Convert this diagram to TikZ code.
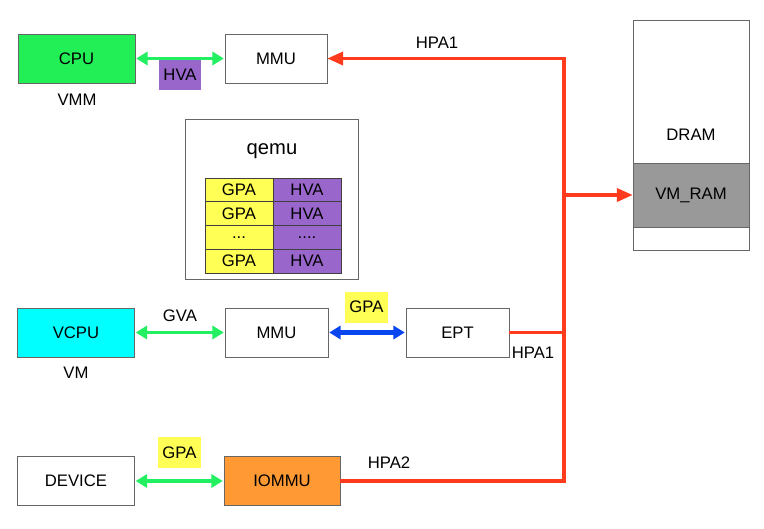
\documentclass[tikz,border=0pt]{standalone}
\usepackage{fontspec}
\setmainfont{Liberation Sans}
\usepackage{tikz}
\usetikzlibrary{arrows.meta, positioning}
\definecolor{cpugreen}{HTML}{22EE55}
\definecolor{linkgreen}{HTML}{22F060}
\definecolor{hpared}{HTML}{FF3B1E}
\definecolor{gpablue}{HTML}{0A46F0}
\definecolor{hvapurple}{HTML}{9966CC}
\definecolor{gpayellow}{HTML}{FFFF55}
\definecolor{vcpucyan}{HTML}{00FFFF}
\definecolor{iommuorange}{HTML}{FF9933}
\definecolor{ramgray}{HTML}{999999}
\tikzstyle{link} = [line width=2.1pt, shorten <=0.5pt, shorten >=0.5pt, {Triangle[length=6.5pt,width=7.5pt]}-{Triangle[length=6.5pt,width=7.5pt]}]
\tikzstyle{hpa} = [hpared, line width=1.8pt]
\newcommand{\tdots}{...}
\newcommand{\qdots}{....}

\begin{document}
\begin{tikzpicture}[
        x=0.02cm, y=-0.02cm,
        font=\fontsize{9.5}{11}\selectfont,
        box/.style={draw=black!60, minimum width=2.34cm, minimum height=0.98cm, inner sep=0pt},
        tag/.style={minimum width=0.86cm, minimum height=0.62cm, inner sep=0pt},
        cell/.style={draw=black!75, minimum width=1.36cm, minimum height=0.475cm, inner sep=0pt}
    ]
        \useasboundingbox (0,0) rectangle (764,528);

        % Host side
        \node[box, fill=cpugreen] (cpu) at (76.5,58.5) {CPU};
        \node (vmm) at (77,100) {VMM};
        \node[box, minimum width=2.04cm] (hostmmu) at (276,58.5) {MMU};
        \node[tag, fill=hvapurple] (hosthva) at (180,74.5) {HVA};
        \node (hpatop) at (437,43) {HPA1};

        % qemu table
        \node[draw=black!60, minimum width=3.46cm, minimum height=3.2cm] (qemu) at (271.5,199) {};
        \node (qemulabel) at (272,151) {\fontsize{11.5}{13}\selectfont qemu};
        \foreach \lft/\rgt [count=\i] in {GPA/HVA, GPA/HVA, \tdots/\qdots, GPA/HVA} {
            \node[cell, fill=gpayellow] (gpa\i) at (239,166.125+23.75*\i) {\lft};
            \node[cell, fill=hvapurple] (hva\i) at (307,166.125+23.75*\i) {\rgt};
        }

        % Memory
        \node[draw=black!60, minimum width=2.32cm, minimum height=4.6cm, inner sep=0pt] (dram) at (691,135) {DRAM};
        \node[draw=black!60, fill=ramgray, minimum width=2.32cm, minimum height=1.28cm, inner sep=0pt] (vmram) at (691,195) {VM\_RAM};

        % Guest side
        \node[box, fill=vcpucyan] (vcpu) at (76,332.5) {VCPU};
        \node (vm) at (76,373) {VM};
        \node (gva) at (180,316) {GVA};
        \node[box, minimum width=2.06cm] (guestmmu) at (276.5,332.5) {MMU};
        \node[tag, fill=gpayellow] (guestgpa) at (366.5,307) {GPA};
        \node[box, minimum width=2.06cm] (ept) at (457.5,332.5) {EPT};
        \node (hpamid) at (533,353) {HPA1};

        % Device side
        \node[box] (device) at (76,481) {DEVICE};
        \node[box, minimum width=2.32cm, fill=iommuorange] (iommu) at (282,481) {IOMMU};
        \node[tag, fill=gpayellow] (devgpa) at (179.5,452.5) {GPA};
        \node (hpabot) at (389,463) {HPA2};

        % Arrows
        \draw[link, linkgreen] (cpu) -- (hostmmu);
        \draw[link, linkgreen] (vcpu) -- (guestmmu);
        \draw[link, gpablue, line width=2.4pt] (guestmmu) -- (ept);
        \draw[link, linkgreen] (device) -- (iommu);

        % HPA bus
        \coordinate (bustop) at (564,58.5);
        \draw[hpa, -{Triangle[length=9pt,width=7.5pt]}] (iommu.east) -- (iommu.east -| bustop) -- (bustop) -- (hostmmu.east);
        \draw[hpa] (ept.east) -- (ept.east -| bustop);
        \draw[hpa, -{Triangle[length=9pt,width=7.5pt]}] (vmram.west -| bustop) -- (vmram.west);
    \end{tikzpicture}
\end{document}
